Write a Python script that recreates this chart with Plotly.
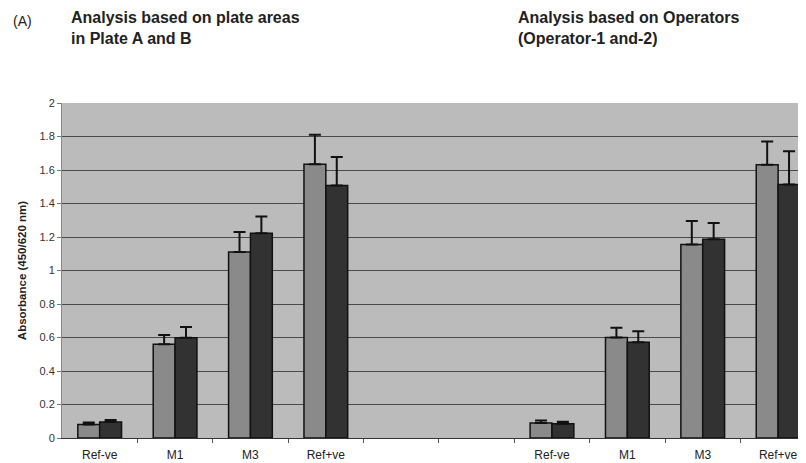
import plotly.graph_objects as go

# Data
categories = ["Ref-ve", "M1", "M3", "Ref+ve", "", "", "Ref-ve", "M1", "M3", "Ref+ve"]
x_pos = [0, 1, 2, 3, 6, 7, 8, 9]
series1_values = [0.08, 0.56, 1.11, 1.635, 0.09, 0.60, 1.155, 1.632]
series1_err = [0.012, 0.055, 0.12, 0.175, 0.015, 0.058, 0.14, 0.138]
series2_values = [0.095, 0.598, 1.222, 1.508, 0.085, 0.572, 1.187, 1.514]
series2_err = [0.013, 0.065, 0.10, 0.17, 0.012, 0.065, 0.096, 0.198]
y_ticks = [0, 0.2, 0.4, 0.6, 0.8, 1, 1.2, 1.4, 1.6, 1.8, 2]
y_tick_labels = ["0", "0.2", "0.4", "0.6", "0.8", "1", "1.2", "1.4", "1.6", "1.8", "2"]

font = "Liberation Sans, Arial, sans-serif"

fig = go.Figure()
for vals, errs, col in [(series1_values, series1_err, "#8a8a8a"),
                        (series2_values, series2_err, "#323232")]:
    fig.add_trace(go.Bar(
        x=x_pos, y=vals,
        marker=dict(color=col, line=dict(color="#111111", width=1.5)),
        error_y=dict(type="data", symmetric=False, array=errs,
                     arrayminus=[0] * len(errs), color="#111111",
                     thickness=2, width=6),
        showlegend=False,
    ))

fig.update_layout(
    width=798, height=455,
    margin=dict(l=54, r=0, t=95, b=25),
    paper_bgcolor="white",
    plot_bgcolor="#bbbbbb",
    barmode="group",
    bargap=0.42,
    bargroupgap=0,
    font=dict(family=font, size=10, color="#333333"),
    xaxis=dict(
        range=[-0.5, 9.37],
        tickvals=list(range(10)),
        ticktext=categories,
        ticks="",
        ticklabelstandoff=6,
        showgrid=False,
        showline=True, linecolor="#333333", linewidth=1,
        tickfont=dict(size=12, color="#222222"),
        minor=dict(tickvals=[i + 0.5 for i in range(9)], ticks="outside",
                   ticklen=4, tickcolor="#555555", showgrid=False),
        zeroline=False,
    ),
    yaxis=dict(
        range=[0, 2],
        tickvals=y_ticks,
        ticktext=y_tick_labels,
        ticks="outside", ticklen=4, tickcolor="#777777",
        showgrid=False,
        showline=True, linecolor="#888888", linewidth=1,
        tickfont=dict(size=11, color="#333333"),
        minor=dict(tickvals=y_ticks[1:-1], showgrid=True,
                   gridcolor="#4a4a4a", gridwidth=1, ticks=""),
        zeroline=False,
        title=dict(text="<b>Absorbance (450/620 nm)</b>",
                   font=dict(size=11.5, color="#222222"), standoff=10),
    ),
)

fig.add_annotation(text="(A)", xref="paper", yref="paper",
                   x=-0.068, y=1.0, xanchor="left", yanchor="bottom",
                   yshift=72, showarrow=False,
                   font=dict(family=font, size=14, color="#222222"))
fig.add_annotation(text="<b>Analysis based on plate areas<br>in Plate A and B</b>",
                   xref="paper", yref="paper", x=0.0095, y=1.0,
                   xanchor="left", yanchor="bottom", yshift=54, align="left",
                   showarrow=False,
                   font=dict(family=font, size=16, color="#222222"))
fig.add_annotation(text="<b>Analysis based on Operators<br>(Operator-1 and-2)</b>",
                   xref="paper", yref="paper", x=0.61, y=1.0,
                   xanchor="left", yanchor="bottom", yshift=54, align="left",
                   showarrow=False,
                   font=dict(family=font, size=16, color="#222222"))

fig.write_html("out.html")
